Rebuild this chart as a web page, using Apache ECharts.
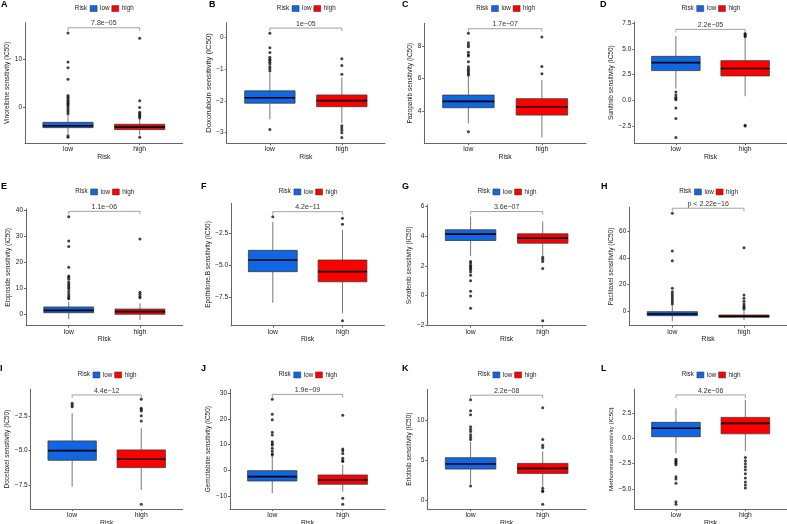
<!DOCTYPE html>
<html>
<head>
<meta charset="utf-8">
<script src="https://cdn.jsdelivr.net/npm/echarts@6/dist/echarts.min.js"></script>
<style>
  html, body { margin: 0; padding: 0; background: #fff; }
  #main { width: 787px; height: 524px; }
</style>
</head>
<body>
<div id="main"></div>
<script>
// ---- data ----
var letters = ['A', 'B', 'C', 'D', 'E', 'F', 'G', 'H', 'I', 'J', 'K', 'L'];
var drugs = ['Vinorelbine', 'Doxorubicin', 'Pazopanib', 'Sunitinib', 'Etoposide', 'Epothilone.B',
  'Sorafenib', 'Paclitaxel', 'Docetaxel', 'Gemcitabine', 'Erlotinib', 'Methotrexate'];
var groups = ['low', 'high'];
var pLabels = ['7.8e\u221205', '1e\u221205', '1.7e\u221207', '2.2e\u221205', '1.1e\u221206', '4.2e\u221211',
  '3.6e\u221207', 'p < 2.22e\u221216', '4.4e\u221212', '1.9e\u221209', '2.2e\u221208', '4.2e\u221206'];

// [lower whisker, Q1, median, Q3, upper whisker]
var lowBox = [
  [-5.6, -4.3, -3.9, -3.2, -1.7],
  [-2.58, -2.07, -1.9, -1.68, -1.12],
  [3.27, 4.22, 4.61, 4.99, 6.15],
  [1.14, 2.89, 3.67, 4.28, 6.26],
  [-1.9, 0.6, 1.5, 2.8, 4.8],
  [-7.89, -5.49, -4.59, -3.84, -1.63],
  [2.68, 3.71, 4.14, 4.43, 5.33],
  [-7.5, -3.3, -2.0, -0.3, 4.5],
  [-7.62, -5.71, -5.01, -4.31, -2.3],
  [-8.96, -4.17, -2.48, -0.15, 5.5],
  [2.0, 3.91, 4.54, 5.33, 7.33],
  [-1.48, 0.16, 0.99, 1.58, 2.96]
];
var highBox = [
  [-5.9, -4.7, -4.2, -3.6, -2.5],
  [-2.7, -2.18, -1.99, -1.81, -1.26],
  [2.41, 3.77, 4.28, 4.77, 5.91],
  [0.39, 2.37, 3.09, 3.86, 6.05],
  [-2.2, 0.0, 1.0, 2.0, 4.2],
  [-8.71, -6.27, -5.49, -4.59, -2.27],
  [2.68, 3.53, 3.87, 4.16, 4.99],
  [-6.5, -4.5, -3.7, -2.8, 1.5],
  [-7.86, -6.24, -5.64, -4.96, -3.39],
  [-8.3, -5.45, -3.78, -1.83, 2.06],
  [1.7, 3.37, 4.0, 4.62, 6.1],
  [-1.25, 0.45, 1.48, 2.07, 3.78]
];
var lowOut = [
  [15.4, 9.4, 8.2, 5.8, 2.4, 2.1, 1.8, 1.4, 1.1, 0.8, 0.5, 0.2, -0.2, -0.6, -1.0, -1.4, -6.0, -6.3],
  [0.14, -0.32, -0.47, -0.62, -0.68, -0.72, -0.78, -0.83, -0.92, -0.98, -1.05, -2.9],
  [8.76, 8.18, 8.05, 7.94, 7.6, 7.45, 7.37, 7.02, 6.72, 6.6, 6.5, 6.4, 6.3, 6.22, 2.76],
  [0.81, 0.5, 0.3, 0.15, 0.05, -0.75, -1.78, -3.63],
  [37.5, 28.2, 26.1, 18.1, 14.7, 14.2, 13.5, 12.3, 11.5, 10.9, 10.3, 9.7, 8.8, 7.8, 7.0, 6.4, 6.0],
  [-1.24],
  [2.3, 2.2, 2.05, 1.95, 1.85, 1.75, 1.6, 1.38, 1.0, 0.3, -0.02, -0.85],
  [73.5, 45.2, 38.0, 17.2, 14.7, 13.0, 11.5, 10.0, 8.5, 7.0, 5.5],
  [-1.58, -1.7, -1.83],
  [27.7, 21.9, 19.7, 14.8, 13.8, 11.1, 10.4, 9.9, 8.6, 7.5, 6.5, 6.0],
  [12.6, 11.2, 10.7, 9.2, 8.9, 8.6, 8.2, 7.9, 7.6, 1.8],
  [-2.07, -2.2, -2.3, -2.45, -2.6, -3.79, -4.0, -4.44, -6.26, -6.5]
];
var highOut = [
  [14.3, 1.3, -0.1, -1.1, -1.4, -1.7, -2.0, -2.3, -6.3],
  [-0.67, -0.88, -1.16, -2.78, -2.85, -2.92, -3.0, -3.15],
  [8.53, 6.74, 6.29],
  [6.5, 6.4, 6.3, 6.2, -2.43, -2.52],
  [29.0, 8.5, 7.7, 6.8, 6.4],
  [-1.36, -1.83, -9.28],
  [2.59, 2.45, 2.3, 1.82, -1.69],
  [47.7, 12.2, 9.8, 7.5, 5.5, 4.0, 3.0, 2.0],
  [-1.29, -1.94, -2.04, -2.14, -2.48, -2.86, -8.9],
  [21.5, 8.3, 7.6, 6.6, 4.7, 3.8, 3.4, -10.9, -13.2],
  [11.6, 7.6, 6.9, 6.6, 1.5, 1.2, 1.1, -0.5],
  [-1.9, -2.2, -2.5, -2.8, -3.1, -3.5, -3.9, -4.3, -4.6, -4.9]
];
var bracketY = [16.5, 0.3, 9.04, 6.91, 39.6, -0.85, 5.66, 77.3, -0.98, 29.6, 13.16, 4.28];
var yTicks = [
  [0, 10], [-3, -2, -1, 0], [4, 6, 8], [-2.5, 0, 2.5, 5, 7.5],
  [0, 10, 20, 30, 40], [-7.5, -5, -2.5], [-2, 0, 2, 4, 6], [0, 20, 40, 60],
  [-7.5, -5, -2.5], [-10, 0, 10, 20, 30], [0, 5, 10], [-5, -2.5, 0, 2.5]
];
var yDigits = [0, 0, 0, 1, 0, 1, 0, 0, 1, 0, 0, 1];
var yRange = [
  [-7.56, 17.56], [-3.335, 0.47], [2.05, 9.37], [-4.2, 7.63],
  [-4.4, 40.5], [-9.67, -0.2], [-2.02, 6.1], [-10.8, 78],
  [-9.24, -0.57], [-15.1, 31.6], [-1.09, 13.9], [-6.97, 4.84]
];

// ---- layout (px) : [left, top, right, bottom] of each plot panel ----
var panelBox = [
  [25, 22.7, 182.7, 143.3], [226.7, 22.7, 385, 143.3], [424.3, 23.3, 586, 143.3], [634.3, 22, 786.7, 143.3],
  [26, 209, 182.7, 325.7], [231, 203.3, 384.3, 325.7], [427.3, 205, 586, 325.7], [629.3, 207.3, 787, 325.7],
  [30.7, 389.3, 182.7, 509], [230, 389.3, 385, 509], [427.3, 389.3, 586, 509], [634.3, 389.3, 787, 509]
];
var letterPos = [
  [1, 0], [209, 0], [402, 0], [600, 0],
  [1, 182], [201, 182], [402, 182], [601, 182],
  [0, 364], [201, 364], [402, 364], [601, 364]
];
var legendY = [9.3, 9.3, 9.3, 9.3, 192.7, 192.7, 192.7, 192.7, 375.7, 375.7, 375.7, 375.7];
var nameGap = [9.75, 11, 10.3, 16, 10.75, 16.5, 14, 12, 16.5, 15.5, 12, 17];
var nameSize = [6.5, 7.7, 6.5, 6.5, 6.5, 6.5, 6.5, 6.5, 6.5, 6.5, 6.5, 6.2];
var xNameGap = [8, 8, 8, 8, 8, 8, 8, 8, 6.3, 6.3, 6.3, 6.3];

var colors = ['#1166E3', '#FF0000'];
var axisColor = '#666';
var textColor = '#222';
var BOX_W = 0.7;

function renderBox(params, api) {
  var x = api.value(0);
  var lo = api.coord([x, api.value(1)]);
  var q1 = api.coord([x, api.value(2)]);
  var md = api.coord([x, api.value(3)]);
  var q3 = api.coord([x, api.value(4)]);
  var hi = api.coord([x, api.value(5)]);
  var w = api.size([BOX_W, 0])[0];
  var whisk = { stroke: '#555', lineWidth: 0.8 };
  return {
    type: 'group',
    children: [
      { type: 'line', shape: { x1: lo[0], y1: lo[1], x2: q1[0], y2: q1[1] }, style: whisk },
      { type: 'line', shape: { x1: q3[0], y1: q3[1], x2: hi[0], y2: hi[1] }, style: whisk },
      { type: 'rect', shape: { x: q3[0] - w / 2, y: q3[1], width: w, height: q1[1] - q3[1] },
        style: { fill: api.visual('color'), stroke: '#3a3a3a', lineWidth: 0.8 } },
      { type: 'line', shape: { x1: md[0] - w / 2, y1: md[1], x2: md[0] + w / 2, y2: md[1] },
        style: { stroke: '#000', lineWidth: 1.6 } }
    ]
  };
}

function bracketRenderer(label) {
  return function (params, api) {
    var a = api.coord([api.value(0), api.value(2)]);
    var b = api.coord([api.value(1), api.value(2)]);
    var tip = 3;
    return {
      type: 'group',
      children: [
        { type: 'polyline', shape: { points: [[a[0], a[1] + tip], a, b, [b[0], b[1] + tip]] },
          style: { stroke: '#8a8a8a', lineWidth: 0.8, fill: null } },
        { type: 'text', x: (a[0] + b[0]) / 2, y: a[1] - 0.8,
          style: { text: label, align: 'center', verticalAlign: 'bottom', fontSize: 7, fill: '#333',
            fontFamily: 'Liberation Sans, Arial, sans-serif' } }
      ]
    };
  };
}

function tickFormatter(d) {
  return function (v) { return v.toFixed(d).replace('-', '\u2212'); };
}

var grids = [], xAxes = [], yAxes = [], series = [], legends = [], titles = [];

for (var i = 0; i < 12; i++) {
  var pb = panelBox[i];
  grids.push({ left: pb[0], top: pb[1], width: pb[2] - pb[0], height: pb[3] - pb[1],
    containLabel: false, outerBoundsMode: 'none' });

  xAxes.push({
    gridIndex: i, type: 'value', min: 0.4, max: 2.6,
    splitLine: { show: false },
    axisLine: { show: true, onZero: false, lineStyle: { color: axisColor, width: 1 } },
    axisTick: { show: true, customValues: [1, 2], length: 2, lineStyle: { color: axisColor } },
    axisLabel: { customValues: [1, 2], formatter: function (v) { return groups[Math.round(v) - 1]; },
      fontSize: 6.8, color: textColor, margin: 2.5 },
    name: 'Risk', nameLocation: 'middle', nameGap: xNameGap[i],
    nameTextStyle: { fontSize: 6.8, color: textColor }
  });

  yAxes.push({
    gridIndex: i, type: 'value', min: yRange[i][0], max: yRange[i][1],
    splitLine: { show: false },
    axisLine: { show: true, onZero: false, lineStyle: { color: axisColor, width: 1 } },
    axisTick: { show: true, customValues: yTicks[i], length: 2, lineStyle: { color: axisColor } },
    axisLabel: { customValues: yTicks[i], fontSize: 6.5, color: textColor, margin: 3,
      formatter: tickFormatter(yDigits[i]) },
    name: drugs[i] + ' sensitivity (IC50)', nameLocation: 'middle', nameGap: nameGap[i],
    nameTextStyle: { fontSize: nameSize[i], color: textColor }
  });

  series.push({
    type: 'custom', name: 'low', xAxisIndex: i, yAxisIndex: i, renderItem: renderBox,
    itemStyle: { color: colors[0] }, encode: { x: 0, y: [1, 2, 3, 4, 5] },
    data: [[1].concat(lowBox[i])], z: 2, silent: true
  });
  series.push({
    type: 'custom', name: 'high', xAxisIndex: i, yAxisIndex: i, renderItem: renderBox,
    itemStyle: { color: colors[1] }, encode: { x: 0, y: [1, 2, 3, 4, 5] },
    data: [[2].concat(highBox[i])], z: 2, silent: true
  });
  series.push({
    type: 'scatter', name: 'outliers', xAxisIndex: i, yAxisIndex: i,
    symbolSize: 3, itemStyle: { color: '#111' }, silent: true, z: 3,
    data: lowOut[i].map(function (v) { return [1, v]; })
      .concat(highOut[i].map(function (v) { return [2, v]; }))
  });
  series.push({
    type: 'custom', name: 'bracket', xAxisIndex: i, yAxisIndex: i, silent: true, z: 4,
    encode: { x: [0, 1], y: 2 },
    data: [[1, 2, bracketY[i]]],
    renderItem: bracketRenderer(pLabels[i])
  });

  var cx = (pb[0] + pb[2]) / 2 + 1;
  var riskX = cx - 30;
  titles.push({ text: letters[i], left: letterPos[i][0], top: letterPos[i][1], padding: 0,
    textStyle: { fontSize: 9, fontWeight: 'bold', color: '#000' } });
  titles.push({ text: 'Risk', left: riskX, top: legendY[i] - 4, padding: 0,
    textStyle: { fontSize: 6.3, fontWeight: 'normal', color: textColor } });
  legends.push({
    data: ['low', 'high'], left: riskX + 15, top: legendY[i] - 4, padding: 0,
    orient: 'horizontal', icon: 'rect', itemWidth: 7, itemHeight: 6, itemGap: 2,
    selectedMode: false,
    itemStyle: { borderColor: '#333', borderWidth: 0.5 },
    textStyle: { fontSize: 6.3, color: textColor, padding: [0, 0, 0, -2] }
  });
}

var myChart = echarts.init(document.getElementById('main'));
var option = {
  animation: false,
  backgroundColor: '#fff',
  textStyle: { fontFamily: 'Liberation Sans, Arial, sans-serif' },
  title: titles,
  legend: legends,
  grid: grids,
  xAxis: xAxes,
  yAxis: yAxes,
  series: series
};
myChart.setOption(option);
</script>
</body>
</html>
